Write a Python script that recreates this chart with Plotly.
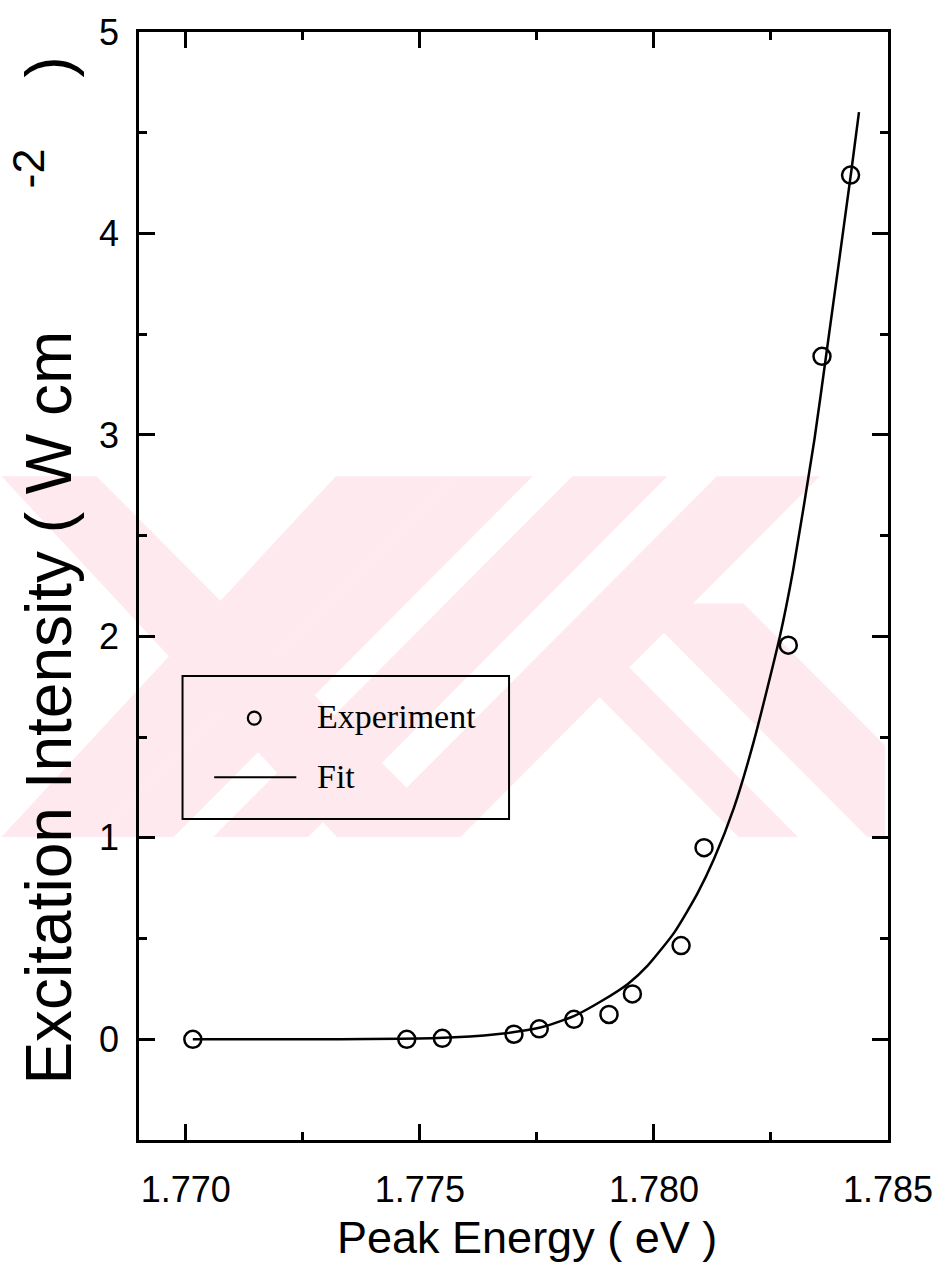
import plotly.graph_objects as go

# Measured points
energy_ev = [1.77015, 1.77472, 1.77548, 1.77701, 1.77755, 1.77829, 1.77904,
             1.77954, 1.78058, 1.78107, 1.78287, 1.78359, 1.78420]
intensity = [0.000, 0.000, 0.005, 0.025, 0.052, 0.099, 0.123,
             0.225, 0.465, 0.951, 1.956, 3.390, 4.290]

# Fitted curve
fit_energy = [1.77015, 1.77304, 1.77537, 1.77663, 1.77755, 1.77829, 1.77889,
              1.77945, 1.77987, 1.78044, 1.78093, 1.78128, 1.78171, 1.78213,
              1.78269, 1.78297, 1.78343, 1.78369, 1.78422, 1.78438]
fit_intensity = [0.000, 0.000, 0.006, 0.025, 0.057, 0.115, 0.191,
                 0.276, 0.367, 0.532, 0.724, 0.893, 1.150, 1.476,
                 1.999, 2.324, 2.980, 3.414, 4.316, 4.602]

x_ticks = [1.770, 1.775, 1.780, 1.785]
x_tick_text = ["1.770", "1.775", "1.780", "1.785"]
y_ticks = [0, 1, 2, 3, 4, 5]

W, H = 945, 1280
L, R, T, B = 139, 896, 25, 1140
PW, PH = R - L, B - T


def px(x):
    return (x - L) / PW


def py(y):
    return (B - y) / PH


def poly(points):
    return "M " + " L ".join(f"{px(a):.5f},{py(b):.5f}" for a, b in points) + " Z"


SANS = "Liberation Sans, Arial, Helvetica, sans-serif"
SERIF = "Liberation Serif, Times New Roman, serif"
PINK = "rgb(253,233,238)"
NB = "\u00a0"

fig = go.Figure()

fig.add_trace(go.Scatter(
    x=fit_energy, y=fit_intensity, mode="lines",
    line=dict(color="black", width=2.5, shape="spline", smoothing=0.6),
    name="Fit", showlegend=False, hoverinfo="skip",
))
fig.add_trace(go.Scatter(
    x=energy_ev, y=intensity, mode="markers",
    marker=dict(symbol="circle-open", size=17, color="black",
                line=dict(color="black", width=2.5)),
    name="Experiment", showlegend=False,
))

shapes = []
# background watermark (pale pink stripes)
wm = [
    [(-24, 472), (96, 472), (459, 835), (339, 835)],
    [(338, 472), (458, 472), (95, 835), (-25, 835)],
    [(458, 472), (537, 472), (174, 835), (95, 835)],
    [(577, 472), (673, 472), (310, 835), (214, 835)],
    [(723, 472), (827, 472), (464, 835), (360, 835)],
    [(640, 600), (750, 600), (893, 743), (893, 835), (875, 835)],
    [(560, 650), (620, 650), (805, 835), (745, 835)],
]
for pts in wm:
    pts = [(max(0, a), b) for a, b in pts]
    shapes.append(dict(type="path", path=poly(pts), xref="paper", yref="paper",
                       fillcolor=PINK, line=dict(width=0), layer="below"))

# legend frame and keys
shapes.append(dict(type="rect", xref="paper", yref="paper",
                   x0=px(183), x1=px(513), y0=py(817), y1=py(673),
                   line=dict(color="black", width=2), fillcolor="rgba(0,0,0,0)"))
shapes.append(dict(type="line", xref="paper", yref="paper",
                   x0=px(215), x1=px(298), y0=py(775), y1=py(775),
                   line=dict(color="black", width=2)))
shapes.append(dict(type="circle", xref="paper", yref="paper",
                   x0=px(249), x1=px(262), y0=py(722), y1=py(709),
                   line=dict(color="black", width=2.2)))

y_title = ("Excitation Intensity ( W cm" + NB * 8 + "<sup>-2</sup>" + NB * 4 + ")")

annotations = [
    dict(text="Experiment", x=px(317), y=py(714), xref="paper", yref="paper",
         xanchor="left", yanchor="middle", showarrow=False,
         font=dict(family=SERIF, size=34, color="black")),
    dict(text="Fit", x=px(317), y=py(774), xref="paper", yref="paper",
         xanchor="left", yanchor="middle", showarrow=False,
         font=dict(family=SERIF, size=34, color="black")),
    dict(text="Peak Energy ( eV )", x=px(531), y=py(1238), xref="paper", yref="paper",
         xanchor="center", yanchor="middle", showarrow=False,
         font=dict(family=SANS, size=45, color="black")),
    dict(text=y_title,
         x=px(43), y=py(567), xref="paper", yref="paper", textangle=-90,
         xanchor="center", yanchor="middle", showarrow=False,
         font=dict(family=SANS, size=64, color="black")),
]

axis_common = dict(
    showline=True, linecolor="black", linewidth=2.5, mirror="ticks",
    ticks="inside", ticklen=16, tickwidth=2.5, tickcolor="black",
    showgrid=False, zeroline=False,
    tickfont=dict(family=SANS, size=36, color="black"),
)

fig.update_xaxes(range=[1.769, 1.785], tickvals=x_ticks, ticktext=x_tick_text,
                 ticklabelstandoff=16,
                 minor=dict(dtick=0.0025, tick0=1.770, ticks="inside", ticklen=8,
                            tickwidth=2.5, tickcolor="black", showgrid=False),
                 **axis_common)
fig.update_yaxes(range=[-0.5, 5], tickvals=y_ticks,
                 ticklabelstandoff=10,
                 minor=dict(dtick=0.5, tick0=0, ticks="inside", ticklen=8,
                            tickwidth=2.5, tickcolor="black", showgrid=False),
                 **axis_common)

fig.update_layout(
    width=W, height=H,
    margin=dict(l=L, r=W - R, t=T, b=H - B, pad=0),
    paper_bgcolor="white", plot_bgcolor="rgba(0,0,0,0)",
    showlegend=False,
    shapes=shapes, annotations=annotations,
)

fig.write_html("out.html")
